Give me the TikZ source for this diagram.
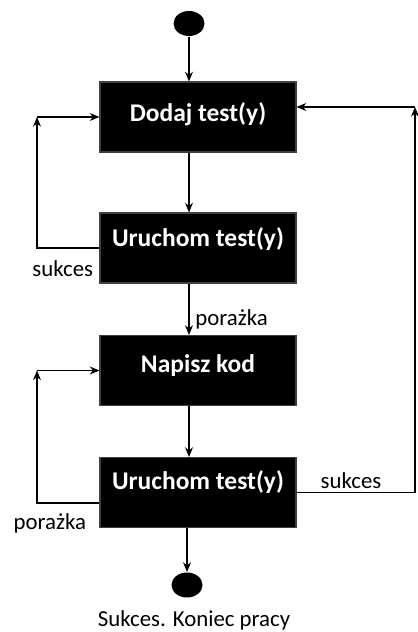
\documentclass[tikz,border=0pt]{standalone}
\usepackage{fontspec}
\setmainfont{Carlito}
\usetikzlibrary{arrows.meta}
\usetikzlibrary{shapes.geometric}
\tikzset{%
    blk/.style={rectangle,fill=black,draw=black!75,text=white,inner sep=0pt,
        minimum width=3.92cm,minimum height=1.4cm,font=\fontsize{14.5}{17}\selectfont\bfseries}
}

\begin{document}
\begin{tikzpicture}[
                line width=0.6pt,
                arr/.style={-{Stealth[length=5.5pt,width=4.5pt]}},
                dot/.style={ellipse,fill=black,inner sep=0pt,minimum width=0.62cm,minimum height=0.5cm},
                lbl/.style={font=\fontsize{13}{15}\selectfont}
            ]
            \useasboundingbox (0,0) rectangle (8.34,12.64);
            \node[dot] (start) at (3.78,12.17){};
            \node[blk,text depth=0.18cm] (add) at (3.96,10.30){Dodaj test(y)};
            \node[blk,text depth=0.42cm] (run) at (3.96,7.68){Uruchom test(y)};
            \node[blk,text depth=0.26cm] (code) at (3.96,5.23){Napisz kod};
            \node[blk,text depth=0.5cm] (rerun) at (3.96,2.79){Uruchom test(y)};
            \node[dot] (stop) at (3.74,0.94){};
            \node[lbl] (done) at (3.88,0.24){Sukces. Koniec pracy};
            \coordinate (l1) at (0.74,10.30);
            \coordinate (l2) at (0.74,5.23);
            \coordinate (r) at (8.30,10.50);

            \draw[arr] (start) -- (start |- add.north);
            \draw[arr] (add.south -| start) -- (run.north -| start);
            \draw[arr] (run.south -| start) -- node[lbl,right,pos=0.7]{porażka}(code.north -| start);
            \draw[arr] (code.south -| start) -- (rerun.north -| start);
            \draw[arr] (rerun.south -| stop) -- (stop);
            \draw[arr] (run.west) node[lbl,below left,yshift=-0.12cm]{sukces} -| (l1);
            \draw[arr] (l1) -- (add.west);
            \draw[arr] ([yshift=-0.21cm]rerun.west) node[lbl,below left,xshift=-0.14cm,yshift=-0.08cm]{porażka} -| (l2);
            \draw[arr] (l2) -- (code.west);
            \draw[arr] (rerun.east) -| node[lbl,pos=0.23,above,yshift=-0.06cm]{sukces}(r);
            \draw[arr] (r) -- (r -| add.east);
        \end{tikzpicture}
\end{document}
